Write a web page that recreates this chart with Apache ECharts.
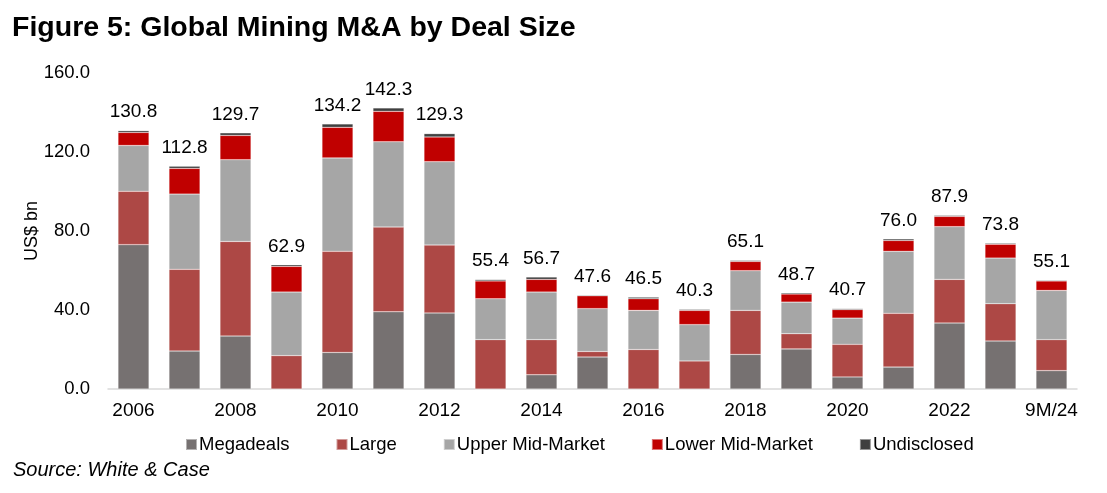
<!DOCTYPE html>
<html><head><meta charset="utf-8">
<script src="https://cdn.jsdelivr.net/npm/echarts@6/dist/echarts.min.js"></script>
<style>html,body{margin:0;padding:0;background:#fff}#c{width:1107px;height:493px}</style>
</head><body><div id="c"></div>
<script>
const categories = ['2006','2007','2008','2009','2010','2011','2012','2013','2014','2015','2016','2017','2018','2019','2020','2021','2022','2023','9M/24'];
const megadeals   = [73.1,19.2,26.8,0,18.5,39.1,38.5,0,7.2,16.2,0,0,17.5,20.3,6.1,11.1,33.4,24.3,9.3];
const large       = [27.0,41.4,47.9,16.9,51.2,42.9,34.4,25.0,17.8,2.8,20.0,14.2,22.3,7.7,16.5,27.2,22.1,18.9,15.7];
const upperMid    = [23.2,38.1,41.4,32.2,47.3,43.2,42.2,20.7,24.1,21.7,19.8,18.4,20.1,16.0,13.3,31.4,26.7,23.1,24.9];
const lowerMid    = [6.6,13.0,12.3,13.0,15.5,15.4,12.5,9.0,6.4,6.5,5.9,7.2,4.7,4.1,4.3,5.5,5.2,7.0,4.8];
const undisclosed = [0.9,1.1,1.3,0.8,1.7,1.7,1.7,0.7,1.2,0.4,0.8,0.5,0.5,0.6,0.5,0.8,0.5,0.5,0.4];
const totals      = [130.8,112.8,129.7,62.9,134.2,142.3,129.3,55.4,56.7,47.6,46.5,40.3,65.1,48.7,40.7,76.0,87.9,73.8,55.1];
const yTicks = [0,40,80,120,160];

const chart = echarts.init(document.getElementById('c'));
const font = 'Liberation Sans, Arial, sans-serif';
function ser(name, data, color, extra) {
  return Object.assign({
    name, type: 'bar', stack: 'total', data, barWidth: 31,
    itemStyle: { color, borderColor: 'rgba(255,255,255,0.45)', borderWidth: 0.5 },
    emphasis: { disabled: true }
  }, extra || {});
}
chart.setOption({
  animation: false,
  textStyle: { fontFamily: font },
  title: [
    { text: 'Figure 5: Global Mining M&A by Deal Size', left: 12, top: 14, padding: 0,
      textStyle: { fontFamily: font, fontSize: 28.5, fontWeight: 'bold', color: '#000' } },
    { text: 'Source: White & Case', left: 13, top: 460, padding: 0,
      textStyle: { fontFamily: font, fontSize: 20, fontStyle: 'italic', fontWeight: 'normal', color: '#000' } }
  ],
  legend: {
    left: 180, top: 430, itemWidth: 11, itemHeight: 11, itemGap: 46, icon: 'rect',
    textStyle: { fontFamily: font, fontSize: 18.5, color: '#000', padding: [0,0,0,-3] },
    data: ['Megadeals','Large','Upper Mid-Market','Lower Mid-Market','Undisclosed']
  },
  grid: { left: 108, right: 30, top: 73, bottom: 104 },
  xAxis: {
    type: 'category', data: categories,
    axisLine: { lineStyle: { color: '#d9d9d9', width: 1.5 } },
    axisTick: { show: false },
    axisLabel: { interval: 1, color: '#000', fontSize: 19, margin: 12, fontFamily: font }
  },
  yAxis: {
    type: 'value', min: 0, max: 160, interval: 40,
    name: 'US$ bn', nameLocation: 'middle', nameGap: 67, nameMoveOverlap: false,
    nameTextStyle: { fontFamily: font, fontSize: 18, color: '#000' },
    axisLine: { show: false }, axisTick: { show: false }, splitLine: { show: false },
    axisLabel: { color: '#000', fontSize: 18.5, margin: 18, fontFamily: font,
      formatter: v => yTicks.includes(v) ? v.toFixed(1) : '' }
  },
  series: [
    ser('Megadeals', megadeals, '#767171'),
    ser('Large', large, '#AD4845'),
    ser('Upper Mid-Market', upperMid, '#A6A6A6'),
    ser('Lower Mid-Market', lowerMid, '#C00000'),
    ser('Undisclosed', undisclosed, '#404040', {
      label: { show: true, position: 'top', distance: 9, color: '#000', fontSize: 19, fontFamily: font,
        formatter: p => totals[p.dataIndex].toFixed(1) }
    })
  ]
});
</script></body></html>
